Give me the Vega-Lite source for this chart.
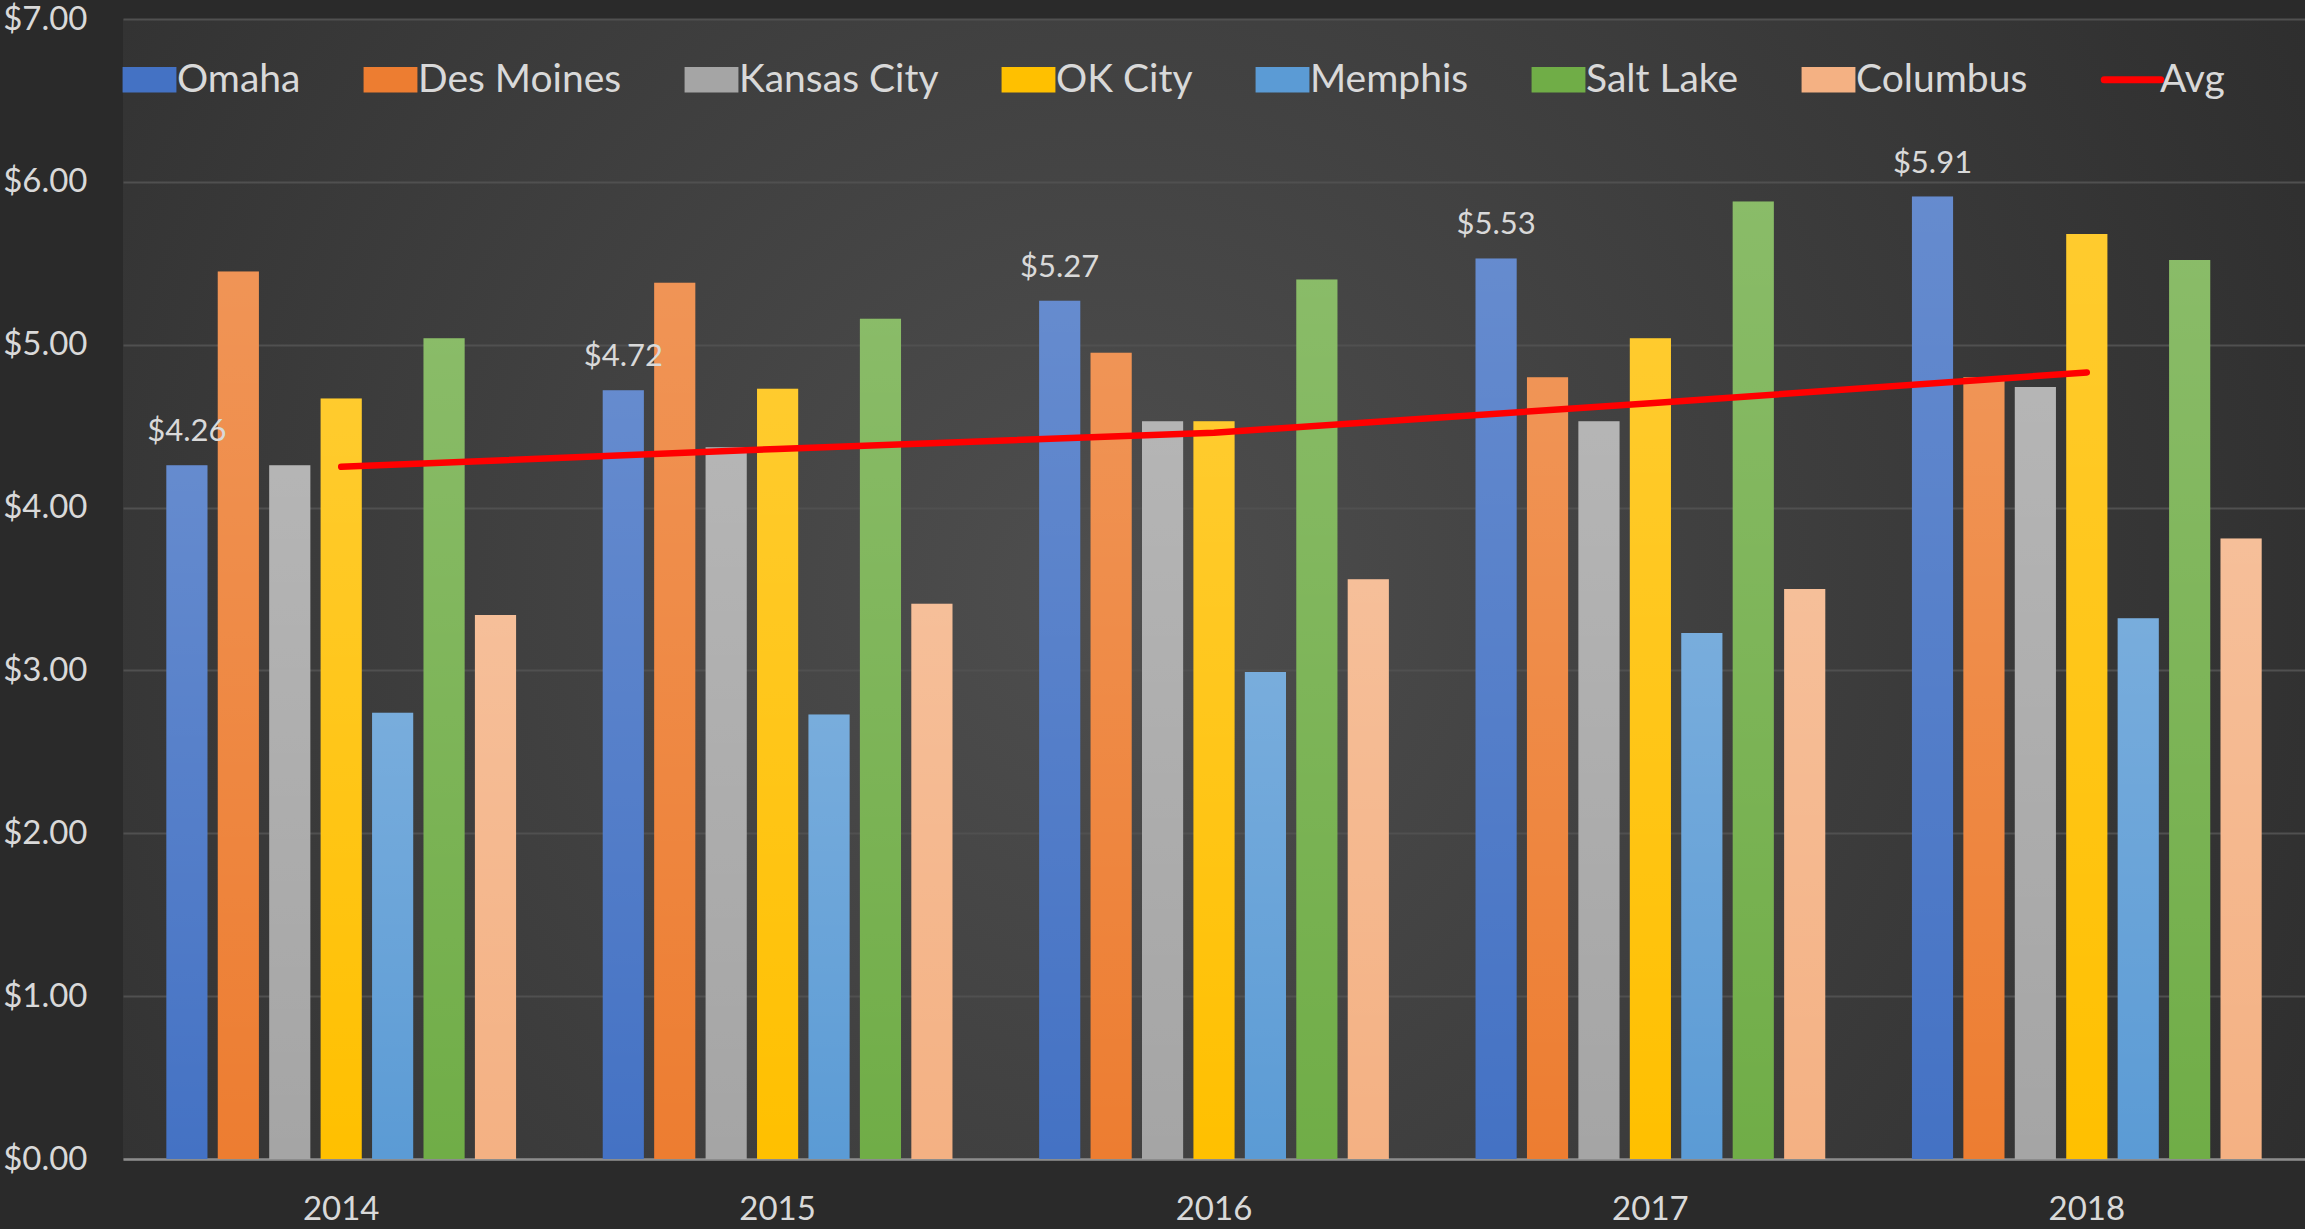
{
  "$schema": "https://vega.github.io/schema/vega-lite/v6.json",
  "width": 2182,
  "height": 1140,
  "autosize": {"type": "none"},
  "padding": {"left": 123, "top": 19, "right": 0, "bottom": 70},
  "background": "#2a2a2a",
  "view": {
    "stroke": null,
    "fill": {
      "gradient": "radial",
      "x1": 0.45, "y1": 0.5, "r1": 0,
      "x2": 0.45, "y2": 0.5, "r2": 0.75,
      "stops": [
        {"offset": 0, "color": "#4e4e4e"},
        {"offset": 1, "color": "#272727"}
      ]
    }
  },
  "config": {
    "font": "Lato",
    "axis": {"labelFont": "Lato"},
    "legend": {"labelFont": "Lato"}
  },
  "data": {
    "values": [
      {"year": "2014", "city": "Omaha", "price": 4.26},
      {"year": "2014", "city": "Des Moines", "price": 5.45},
      {"year": "2014", "city": "Kansas City", "price": 4.26},
      {"year": "2014", "city": "OK City", "price": 4.67},
      {"year": "2014", "city": "Memphis", "price": 2.74},
      {"year": "2014", "city": "Salt Lake", "price": 5.04},
      {"year": "2014", "city": "Columbus", "price": 3.34},
      {"year": "2014", "city": "Avg", "price": 4.25},
      {"year": "2015", "city": "Omaha", "price": 4.72},
      {"year": "2015", "city": "Des Moines", "price": 5.38},
      {"year": "2015", "city": "Kansas City", "price": 4.37},
      {"year": "2015", "city": "OK City", "price": 4.73},
      {"year": "2015", "city": "Memphis", "price": 2.73},
      {"year": "2015", "city": "Salt Lake", "price": 5.16},
      {"year": "2015", "city": "Columbus", "price": 3.41},
      {"year": "2015", "city": "Avg", "price": 4.36},
      {"year": "2016", "city": "Omaha", "price": 5.27},
      {"year": "2016", "city": "Des Moines", "price": 4.95},
      {"year": "2016", "city": "Kansas City", "price": 4.53},
      {"year": "2016", "city": "OK City", "price": 4.53},
      {"year": "2016", "city": "Memphis", "price": 2.99},
      {"year": "2016", "city": "Salt Lake", "price": 5.40},
      {"year": "2016", "city": "Columbus", "price": 3.56},
      {"year": "2016", "city": "Avg", "price": 4.46},
      {"year": "2017", "city": "Omaha", "price": 5.53},
      {"year": "2017", "city": "Des Moines", "price": 4.80},
      {"year": "2017", "city": "Kansas City", "price": 4.53},
      {"year": "2017", "city": "OK City", "price": 5.04},
      {"year": "2017", "city": "Memphis", "price": 3.23},
      {"year": "2017", "city": "Salt Lake", "price": 5.88},
      {"year": "2017", "city": "Columbus", "price": 3.50},
      {"year": "2017", "city": "Avg", "price": 4.64},
      {"year": "2018", "city": "Omaha", "price": 5.91},
      {"year": "2018", "city": "Des Moines", "price": 4.80},
      {"year": "2018", "city": "Kansas City", "price": 4.74},
      {"year": "2018", "city": "OK City", "price": 5.68},
      {"year": "2018", "city": "Memphis", "price": 3.32},
      {"year": "2018", "city": "Salt Lake", "price": 5.52},
      {"year": "2018", "city": "Columbus", "price": 3.81},
      {"year": "2018", "city": "Avg", "price": 4.83}
    ]
  },
  "encoding": {
    "x": {
      "field": "year",
      "type": "nominal",
      "scale": {"paddingInner": 0.175, "paddingOuter": 0.0875},
      "axis": {
        "title": null,
        "labelAngle": 0,
        "labelFontSize": 33,
        "labelColor": "#d9d9d9",
        "labelPadding": 34,
        "ticks": false,
        "tickSize": 0,
        "domain": true,
        "domainColor": "#8c8c8c",
        "domainWidth": 2.5,
        "grid": false
      }
    },
    "y": {
      "field": "price",
      "type": "quantitative",
      "scale": {"domain": [0, 7], "nice": false, "zero": true},
      "axis": {
        "title": null,
        "format": "$.2f",
        "values": [0, 1, 2, 3, 4, 5, 6, 7],
        "labelFontSize": 33,
        "labelColor": "#d9d9d9",
        "labelPadding": 36,
        "ticks": false,
        "tickSize": 0,
        "domain": false,
        "grid": true,
        "gridColor": "#505050",
        "gridWidth": 2
      }
    }
  },
  "layer": [
    {
      "transform": [{"filter": "datum.city !== 'Avg'"}],
      "mark": {"type": "bar"},
      "encoding": {
        "xOffset": {
          "field": "city",
          "type": "nominal",
          "sort": ["Omaha", "Des Moines", "Kansas City", "OK City", "Memphis", "Salt Lake", "Columbus"],
          "scale": {"paddingInner": 0.2, "paddingOuter": 0.1}
        },
        "color": {
          "field": "city",
          "type": "nominal",
          "scale": {
            "domain": ["Omaha", "Des Moines", "Kansas City", "OK City", "Memphis", "Salt Lake", "Columbus", "Avg"],
            "range": ["#4472C4", "#ED7D31", "#A5A5A5", "#FFC000", "#5B9BD5", "#70AD47", "#F4B183", "#FF0000"]
          },
          "legend": {
            "title": null,
            "orient": "none",
            "legendX": 7,
            "legendY": 41,
            "direction": "horizontal",
            "columns": 8,
            "labelFontSize": 39,
            "labelLimit": 600,
            "labelColor": "#d9d9d9",
            "symbolSize": 2900,
            "labelOffset": 8,
            "columnPadding": 62,
            "symbolType": "M-1,-0.47H1V0.47H-1Z",
            "encode": {
              "symbols": {
                "update": {
                  "shape": {"signal": "datum.value === 'Avg' ? 'M-1.05,0H1.05' : 'M-1,-0.47H1V0.47H-1Z'"},
                  "fill": {"signal": "datum.value === 'Avg' ? 'transparent' : scale('color', datum.value)"},
                  "stroke": {"signal": "datum.value === 'Avg' ? '#ff0000' : 'transparent'"},
                  "strokeWidth": {"signal": "datum.value === 'Avg' ? 7 : 0"},
                  "strokeCap": {"value": "round"},
                  "opacity": {"value": 1},
                  "fillOpacity": {"value": 1}
                }
              }
            }
          }
        }
      }
    },
    {
      "transform": [{"filter": "datum.city !== 'Avg'"}],
      "mark": {
        "type": "bar",
        "color": {
          "gradient": "linear",
          "x1": 0, "y1": 0, "x2": 0, "y2": 1,
          "stops": [
            {"offset": 0, "color": "rgba(255,255,255,0.18)"},
            {"offset": 1, "color": "rgba(255,255,255,0)"}
          ]
        }
      },
      "encoding": {
        "xOffset": {
          "field": "city",
          "type": "nominal",
          "sort": ["Omaha", "Des Moines", "Kansas City", "OK City", "Memphis", "Salt Lake", "Columbus"]
        }
      }
    },
    {
      "transform": [{"filter": "datum.city === 'Omaha'"}],
      "mark": {"type": "text", "baseline": "bottom", "dy": -17, "fontSize": 31, "color": "#d9d9d9"},
      "encoding": {
        "xOffset": {
          "field": "city",
          "type": "nominal",
          "sort": ["Omaha", "Des Moines", "Kansas City", "OK City", "Memphis", "Salt Lake", "Columbus"]
        },
        "text": {"field": "price", "type": "quantitative", "format": "$.2f"}
      }
    },
    {
      "transform": [{"filter": "datum.city === 'Avg'"}],
      "mark": {"type": "line", "strokeWidth": 6.5, "strokeCap": "round"},
      "encoding": {
        "color": {
          "field": "city",
          "type": "nominal",
          "legend": {
            "title": null,
            "orient": "none",
            "legendX": 7,
            "legendY": 41,
            "direction": "horizontal",
            "columns": 8,
            "labelFontSize": 39,
            "labelLimit": 600,
            "labelColor": "#d9d9d9",
            "symbolSize": 2900,
            "labelOffset": 8,
            "columnPadding": 62,
            "symbolType": "M-1,-0.47H1V0.47H-1Z"
          }
        }
      }
    }
  ]
}
